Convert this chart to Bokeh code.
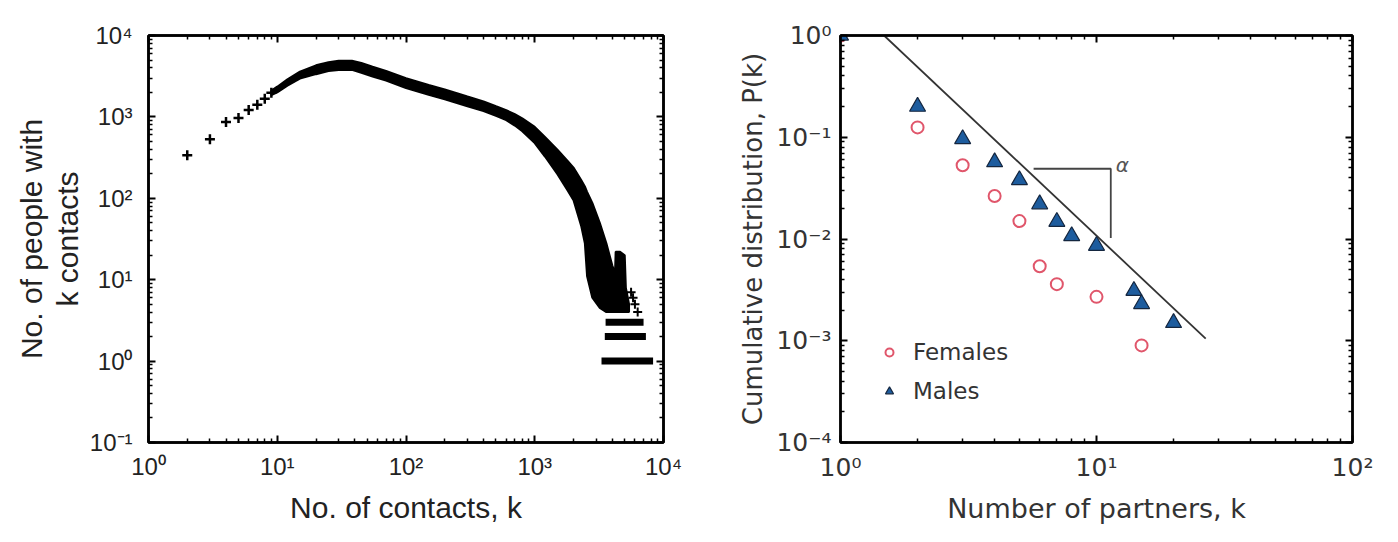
from bokeh.plotting import figure
from bokeh.models import (LogAxis, FixedTicker, CustomJSTickFormatter, Label,
                          Legend, LegendItem, Range1d)
from bokeh.layouts import row
from bokeh.embed import file_html
from bokeh.resources import INLINE

# ---------------- Left panel data ----------------
sparse_k = [2, 3, 4, 5, 6, 7, 8, 9]
sparse_n = [337, 530, 865, 968, 1216, 1413, 1671, 1980]

band_k = [9, 10, 12, 15, 20, 25, 30, 38, 45, 55, 70, 100, 150, 200, 300, 400,
          500, 600, 700, 800, 1000, 1200, 1500, 1800, 2000, 2300, 2450, 2550,
          2800, 3200, 3600, 4000, 4200, 4250, 4600, 5000, 5100, 5400]
band_hi = [2100, 2350, 2900, 3600, 4300, 4700, 4900, 4900, 4590, 4130, 3670,
           2980, 2470, 2180, 1780, 1550, 1350, 1210, 1080, 962, 755, 567, 396,
           288, 238, 167, 140, 120, 88, 50, 28, 15, 12, 22, 22, 20, 8, 5]
band_lo = [1850, 2000, 2420, 2950, 3350, 3650, 3780, 3780, 3480, 3140, 2790,
           2260, 1870, 1650, 1350, 1180, 1030, 915, 783, 666, 477, 326, 198,
           125, 95, 45, 28, 11, 6, 4.5, 4, 4, 4, 4, 4, 4, 4, 4]

row_n = [1, 2, 3]
row_k_start = [3300, 3500, 3550]
row_k_end = [8300, 7300, 7000]

tail_k = [5600, 5800, 6000, 6300]
tail_n = [7, 6, 5, 4]

# ---------------- Right panel data ----------------
fem_k = [1, 2, 3, 4, 5, 6, 7, 10, 15]
fem_p = [1.0, 0.125, 0.053, 0.0265, 0.015, 0.0054, 0.0036, 0.0027, 0.0009]
male_k = [1, 2, 3, 4, 5, 6, 7, 8, 10, 14, 15, 20]
male_p = [1.0, 0.20, 0.096, 0.057, 0.038, 0.022, 0.0148, 0.0107, 0.0086,
          0.0031, 0.0023, 0.0015]
fit_k = [1.48, 26.7]
fit_p = [1.0, 0.00105]
bracket_k = [5.68, 11.37, 11.37]
bracket_p = [0.049, 0.049, 0.0102]

left_x_ticks = [1, 10, 100, 1000, 10000]
left_y_ticks = [0.1, 1, 10, 100, 1000, 10000]
right_x_ticks = [1, 10, 100]
right_y_ticks = [0.0001, 0.001, 0.01, 0.1, 1]

SUP_JS = """
const sup = {"-":"\u207b","0":"\u2070","1":"\u00b9","2":"\u00b2","3":"\u00b3",
             "4":"\u2074","5":"\u2075","6":"\u2076","7":"\u2077","8":"\u2078","9":"\u2079"};
const e = Math.round(Math.log10(tick));
return "10" + String(e).split("").map(c => sup[c]).join("");
"""


def minors(ticks):
    out = []
    for t in ticks[:-1]:
        out += [t * m for m in range(2, 10)]
    return out


def style_axis(ax, ticks, font, size, standoff, labels=True, color="#111",
               lw=2.5, major_in=7, minor_in=4):
    ax.ticker = FixedTicker(ticks=ticks, minor_ticks=minors(ticks))
    if labels:
        ax.formatter = CustomJSTickFormatter(code=SUP_JS)
    else:
        ax.formatter = CustomJSTickFormatter(code="return '';")
        ax.major_label_standoff = 0
    ax.major_tick_in = major_in
    ax.major_tick_out = 0
    ax.minor_tick_in = minor_in
    ax.minor_tick_out = 0
    ax.axis_line_width = lw
    ax.axis_line_color = "black"
    ax.major_tick_line_width = 2
    ax.minor_tick_line_width = 1.5
    ax.major_label_text_font = font
    ax.major_label_text_font_size = size
    ax.major_label_text_color = color
    if labels:
        ax.major_label_standoff = standoff


def style_title(ax, text, font, size, standoff, color):
    ax.axis_label = text
    ax.axis_label_text_font = font
    ax.axis_label_text_font_size = size
    ax.axis_label_text_font_style = "normal"
    ax.axis_label_text_color = color
    ax.axis_label_standoff = standoff


# ================= Left figure =================
p1 = figure(width=700, height=526, x_axis_type="log", y_axis_type="log",
            x_range=Range1d(1, 1e4), y_range=Range1d(0.1, 1e4),
            output_backend="svg", toolbar_location=None,
            min_border_left=148, min_border_right=37,
            min_border_top=35, min_border_bottom=84)
p1.xgrid.visible = False
p1.ygrid.visible = False
p1.outline_line_color = "black"
p1.outline_line_width = 2.5

LF = "Liberation Sans"
style_axis(p1.xaxis[0], left_x_ticks, LF, "24px", 10, color="#222")
style_axis(p1.yaxis[0], left_y_ticks, LF, "24px", 16, color="#222")
style_title(p1.xaxis[0], "No. of contacts, k", LF, "30px", 8, "#222")
style_title(p1.yaxis[0], "k contacts", LF, "30px", 3, "#222")

# outer title line on the left: an axis carrying only a title
outer1 = LogAxis()
p1.add_layout(outer1, "left")
outer1.ticker = FixedTicker(ticks=[])
outer1.formatter = CustomJSTickFormatter(code="return '';")
outer1.axis_line_color = None
outer1.major_tick_line_color = None
outer1.minor_tick_line_color = None
outer1.major_label_standoff = 0
style_title(outer1, "No. of people with", LF, "30px", 0, "#222")

top1 = LogAxis()
right1 = LogAxis()
p1.add_layout(top1, "above")
p1.add_layout(right1, "right")
style_axis(top1, left_x_ticks, LF, "10px", 0, labels=False)
style_axis(right1, left_y_ticks, LF, "10px", 0, labels=False)

p1.patch(band_k + band_k[::-1], band_hi + band_lo[::-1],
         fill_color="black", line_color="black", line_width=2)
p1.segment(x0=row_k_start, y0=row_n, x1=row_k_end, y1=row_n,
           line_color="black", line_width=7)
p1.scatter(sparse_k, sparse_n, marker="cross", size=10, line_width=2.5,
           line_color="black")
p1.scatter(tail_k, tail_n, marker="cross", size=9, line_width=2,
           line_color="black")

# ================= Right figure =================
p2 = figure(width=680, height=526, x_axis_type="log", y_axis_type="log",
            x_range=Range1d(1, 100), y_range=Range1d(1e-4, 1),
            output_backend="svg", toolbar_location=None,
            min_border_left=140, min_border_right=28,
            min_border_top=16, min_border_bottom=82)
p2.xgrid.visible = False
p2.ygrid.visible = False
p2.outline_line_color = "#222"
p2.outline_line_width = 2.5

RF = "DejaVu Sans"
style_axis(p2.xaxis[0], right_x_ticks, RF, "25px", 10, color="#333")
style_axis(p2.yaxis[0], right_y_ticks, RF, "25px", 9, color="#333")
style_title(p2.xaxis[0], "Number of partners, k", RF, "27px", 8, "#333")
style_title(p2.yaxis[0], "Cumulative distribution, P(k)", RF, "26px", 5, "#333")
top2 = LogAxis()
right2 = LogAxis()
p2.add_layout(top2, "above")
p2.add_layout(right2, "right")
style_axis(top2, right_x_ticks, RF, "10px", 0, labels=False)
style_axis(right2, right_y_ticks, RF, "10px", 0, labels=False)

p2.line(fit_k, fit_p, line_color="#333", line_width=1.8)
p2.line(bracket_k, bracket_p, line_color="#444", line_width=1.8)
r_f = p2.scatter(fem_k, fem_p, marker="circle", size=12, fill_color=None,
                 line_color="#e0566b", line_width=2)
r_m = p2.scatter(male_k, male_p, marker="triangle", size=16,
                 fill_color="#1d5c9e", line_color="#14263f", line_width=1.2)
p2.add_layout(Label(x=11.9, y=0.0536, text="\u03b1", text_font=RF,
                    text_font_style="italic", text_font_size="20px",
                    text_color="#555", text_baseline="middle",
                    text_align="left"))

legend = Legend(items=[LegendItem(label="Females", renderers=[r_f]),
                       LegendItem(label="Males", renderers=[r_m])],
                location=(39, 36), border_line_color=None,
                background_fill_alpha=0, padding=0, margin=0, spacing=9,
                label_height=30, glyph_height=20, glyph_width=20,
                label_standoff=14, label_text_font=RF,
                label_text_font_size="23px", label_text_color="#333")
p2.add_layout(legend)

page = row(p1, p2)
with open("out.html", "w") as f:
    f.write(file_html(page, INLINE))
